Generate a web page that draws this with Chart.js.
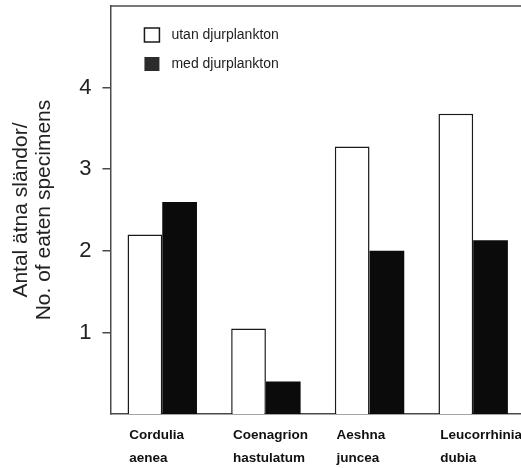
<!DOCTYPE html>
<html>
<head>
<meta charset="utf-8">
<script src="https://cdn.jsdelivr.net/npm/chart.js@4.4.0/dist/chart.umd.min.js"></script>
<style>
    html, body { margin: 0; padding: 0; overflow: hidden; background: #fff; }
    /* a figura original é cortada à direita e embaixo */
    #wrap { width: 526px; height: 480px; }
</style>
</head>
<body>
<div id="wrap"><canvas id="grafico"></canvas></div>
<script>
// Dados
const categorias = [['Cordulia', 'aenea'], ['Coenagrion', 'hastulatum'], ['Aeshna', 'juncea'], ['Leucorrhinia', 'dubia']];
const serieNomes = ['utan djurplankton', 'med djurplankton'];
const utanDjurplankton = [2.2, 1.05, 3.28, 3.68];
const medDjurplankton = [2.6, 0.4, 2.0, 2.13];
const yTicks = [1, 2, 3, 4];
const tituloY = ['Antal ätna sländor/', 'No. of eaten specimens'];

Chart.defaults.color = '#222';
Chart.defaults.font.family = "'Liberation Sans', Arial, sans-serif";

const corEixo = '#4a4a4a';

// Moldura superior + legenda dentro da área do gráfico
const legendaInterna = {
    id: 'legendaInterna',
    afterDraw(chart) {
        const { ctx, chartArea } = chart;
        ctx.save();
        ctx.strokeStyle = corEixo;
        ctx.lineWidth = 1.5;
        ctx.beginPath();
        ctx.moveTo(chartArea.left, chartArea.top);
        ctx.lineTo(chartArea.right, chartArea.top);
        ctx.stroke();

        ctx.font = "14px 'Liberation Sans', Arial, sans-serif";
        ctx.textBaseline = 'middle';
        chart.data.datasets.forEach((ds, i) => {
            const x = chartArea.left + 34;
            const y = chartArea.top + 22 + i * 29;
            ctx.fillStyle = ds.legendFill;
            ctx.fillRect(x, y, 15, 14);
            if (ds.borderWidth) {
                ctx.strokeStyle = ds.borderColor;
                ctx.lineWidth = 1.5;
                ctx.strokeRect(x, y, 15, 14);
            }
            ctx.fillStyle = '#222';
            ctx.fillText(ds.label, x + 27, y + 7);
        });
        ctx.restore();
    }
};

const ctx = document.getElementById('grafico').getContext('2d');
new Chart(ctx, {
    type: 'bar',
    data: {
        labels: categorias,
        datasets: [{
            label: serieNomes[0],
            data: utanDjurplankton,
            backgroundColor: '#ffffff',
            borderColor: '#1a1a1a',
            borderWidth: 1.5,
            legendFill: '#ffffff'
        }, {
            label: serieNomes[1],
            data: medDjurplankton,
            backgroundColor: '#0b0b0b',
            borderColor: '#0b0b0b',
            borderWidth: 0,
            legendFill: '#2c2c2c'
        }]
    },
    options: {
        responsive: true,
        maintainAspectRatio: false,
        animation: false,
        categoryPercentage: 0.67,
        barPercentage: 1.0,
        layout: { padding: { top: 6, right: 1, left: 0, bottom: 0 } },
        plugins: {
            legend: { display: false },
            tooltip: { enabled: false }
        },
        scales: {
            x: {
                grid: { display: false, drawTicks: false },
                border: { display: true, color: corEixo, width: 1.5 },
                ticks: {
                    align: 'start',
                    labelOffset: -33,
                    padding: 10,
                    maxRotation: 0,
                    autoSkip: false,
                    color: '#111',
                    font: { size: 13.5, weight: 'bold', lineHeight: 1.7 }
                },
                afterFit: scale => {
                    scale.paddingLeft = 0;
                    scale.paddingRight = 0;
                }
            },
            y: {
                min: 0,
                max: 5,
                afterBuildTicks: scale => {
                    scale.ticks = yTicks.map(v => ({ value: v }));
                },
                afterFit: scale => {
                    scale.paddingTop = 0;
                    scale.paddingBottom = 0;
                },
                grid: {
                    drawOnChartArea: false,
                    tickLength: 8,
                    tickColor: corEixo,
                    lineWidth: 1.5
                },
                border: { display: true, color: corEixo, width: 1.5 },
                ticks: {
                    padding: 11,
                    color: '#222',
                    font: { size: 22 }
                },
                title: {
                    display: true,
                    text: tituloY,
                    color: '#222',
                    font: { size: 21, lineHeight: 1.1 },
                    padding: { top: 10, bottom: 12 }
                }
            }
        }
    },
    plugins: [legendaInterna]
});
</script>
</body>
</html>
